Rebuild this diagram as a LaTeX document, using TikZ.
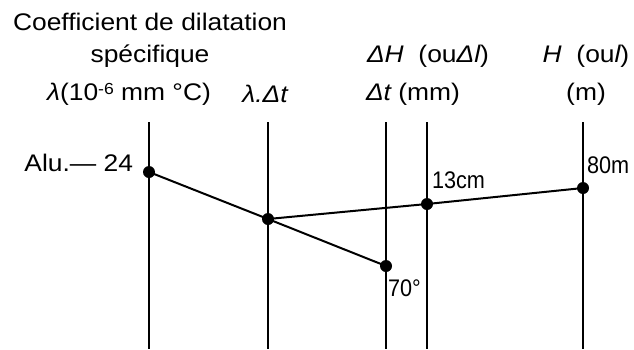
\documentclass[tikz,border=0pt]{standalone}
\usepackage{graphicx}
\usepackage{fontspec}
\setmainfont[FakeStretch=1.1]{Liberation Sans}
\usetikzlibrary{positioning}
\newcommand{\narrowtxt}[1]{\scalebox{0.82}[1]{#1}}

\begin{document}
\begin{tikzpicture}[x=1pt,y=-1pt,line width=2pt,node distance=4pt]
            % styles
            \tikzstyle{dot}=[circle,fill=black,inner sep=0pt,minimum size=12pt]
            \tikzstyle{lbl}=[inner sep=1pt,font=\fontsize{24}{28}\selectfont]
            \useasboundingbox (0,0) rectangle (634,349);

            % axes
            \foreach \n/\x in {lam/149,prod/268,temp/386,dh/427,haut/583}
                \draw (\x,122) coordinate (\n top) -- (\x,349) coordinate (\n bot);

            % points
            \node[dot] (A) at (149,172) {};
            \node[dot] (B) at (268,219) {};
            \node[dot] (C) at (386,266) {};
            \node[dot] (D) at (427,204) {};
            \node[dot] (E) at (583,188) {};

            % alignment lines
            \draw (A.center) -- (B.center) -- (C.center);
            \draw (B.center) -- (D.center) -- (E.center);

            % values
            \node[lbl,anchor=south east] (alu) at (135,174) {Alu.— 24};
            \node[lbl,anchor=south west] (cm) at (430,191) {\narrowtxt{13cm}};
            \node[lbl,anchor=south west] (m) at (585,176) {\narrowtxt{80m}};
            \node[lbl,anchor=north west] (deg) at (386,278) {\narrowtxt{70°}};

            % headings
            \node[lbl] (t1) at (150,22) {Coefficient de dilatation};
            \node[lbl] (t2) at (150,56) {spécifique};
            \node[lbl] (t3) at (129,94) {\itshape λ\upshape(10\raisebox{0.45ex}{\fontsize{16}{18}\selectfont -6} mm °C)};
            \node[lbl] (t4) at (265,94) {\itshape λ.Δt};
            \node[lbl] (t5) at (428,56) {\itshape ΔH\upshape\ \ (ou\itshape Δl\upshape)};
            \node[lbl] (t6) at (413,94) {\itshape Δt\upshape\ (mm)};
            \node[lbl] (t7) at (586,56) {\itshape H\upshape\ \ (ou\itshape l\upshape)};
            \node[lbl] (t8) at (586,94) {(m)};
        \end{tikzpicture}
\end{document}
